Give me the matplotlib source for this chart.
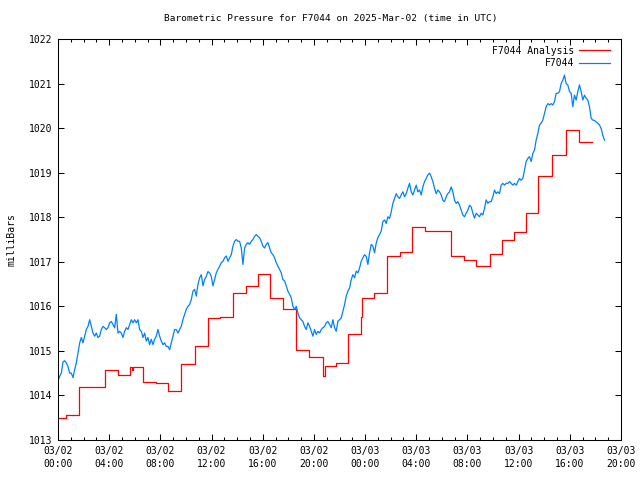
import numpy as np
import matplotlib
matplotlib.use("Agg")
import matplotlib.pyplot as plt
from matplotlib.ticker import MultipleLocator

# Analysis (step values), time in hours since 03/02 00:00 UTC
an_hours = [0.0, 0.65, 1.65, 2.72, 3.65, 4.69, 5.65, 5.78, 5.88, 6.64, 7.68,
            8.6, 9.64, 10.68, 11.72, 12.68, 13.67, 14.7, 15.6, 16.6, 17.6,
            18.6, 19.65, 20.74, 20.84, 21.7, 22.64, 23.65, 23.78, 24.7, 25.7,
            26.73, 27.7, 28.7, 30.7, 31.7, 32.7, 33.76, 34.7, 35.66, 36.6,
            37.55, 38.6, 39.7, 40.7, 41.7]
an_mb = [1013.49, 1013.56, 1014.18, 1014.20, 1014.56, 1014.47, 1014.64,
         1014.58, 1014.64, 1014.31, 1014.27, 1014.09, 1014.70, 1015.12,
         1015.73, 1015.75, 1016.29, 1016.45, 1016.72, 1016.18, 1015.93,
         1015.02, 1014.86, 1014.44, 1014.65, 1014.72, 1015.39, 1015.75,
         1016.18, 1016.29, 1017.13, 1017.23, 1017.78, 1017.70, 1017.13,
         1017.04, 1016.90, 1017.17, 1017.50, 1017.66, 1018.09, 1018.92,
         1019.39, 1019.96, 1019.68, 1019.68]

# Station observations, one reading every ~7.8 minutes from 00:00
obs_step_h = 5 / 38.4
obs_mb = [
    1014.32, 1014.43, 1014.50, 1014.75, 1014.78, 1014.73, 1014.65, 1014.50,
    1014.50, 1014.40, 1014.58, 1014.73, 1014.95, 1015.18, 1015.30, 1015.18,
    1015.33, 1015.48, 1015.55, 1015.70, 1015.55, 1015.40, 1015.33, 1015.40,
    1015.30, 1015.33, 1015.48, 1015.55, 1015.52, 1015.48, 1015.52, 1015.63,
    1015.66, 1015.59, 1015.52, 1015.82, 1015.40, 1015.44, 1015.40, 1015.30,
    1015.44, 1015.52, 1015.48, 1015.59, 1015.70, 1015.63, 1015.70, 1015.63,
    1015.70, 1015.48, 1015.44, 1015.30, 1015.40, 1015.22, 1015.30, 1015.14,
    1015.26, 1015.14, 1015.26, 1015.33, 1015.48, 1015.33, 1015.22, 1015.14,
    1015.18, 1015.10, 1015.10, 1015.03, 1015.18, 1015.33, 1015.48, 1015.48,
    1015.40, 1015.48, 1015.55, 1015.70, 1015.82, 1015.93, 1016.00, 1016.04,
    1016.15, 1016.34, 1016.38, 1016.23, 1016.49, 1016.64, 1016.71, 1016.46,
    1016.60, 1016.67, 1016.78, 1016.75, 1016.67, 1016.46, 1016.60, 1016.75,
    1016.83, 1016.90, 1016.98, 1017.01, 1017.09, 1017.13, 1017.01, 1017.09,
    1017.16, 1017.35, 1017.46, 1017.50, 1017.46, 1017.46, 1017.31, 1016.94,
    1017.31, 1017.39, 1017.43, 1017.39, 1017.46, 1017.50, 1017.57, 1017.61,
    1017.57, 1017.54, 1017.46, 1017.35, 1017.31, 1017.39, 1017.43, 1017.31,
    1017.20, 1017.16, 1017.09, 1016.98, 1016.90, 1016.83, 1016.75, 1016.60,
    1016.57, 1016.46, 1016.34, 1016.27, 1016.19, 1016.00, 1015.93, 1016.00,
    1015.85, 1015.74, 1015.70, 1015.66, 1015.55, 1015.48, 1015.63, 1015.55,
    1015.44, 1015.33, 1015.48, 1015.37, 1015.44, 1015.40, 1015.48, 1015.52,
    1015.55, 1015.63, 1015.66, 1015.59,
    1015.52, 1015.70, 1015.52, 1015.44, 1015.67, 1015.70, 1015.74, 1015.89,
    1016.04, 1016.23, 1016.34, 1016.41, 1016.60, 1016.71, 1016.64, 1016.79,
    1016.75, 1016.86, 1017.01, 1017.09, 1017.16, 1017.12, 1016.94, 1017.20,
    1017.39, 1017.35, 1017.20, 1017.42, 1017.54, 1017.61, 1017.69,
    1017.90, 1017.94, 1017.86, 1018.01, 1017.97, 1018.12, 1018.31, 1018.42,
    1018.53, 1018.46, 1018.42, 1018.50, 1018.57, 1018.46, 1018.53, 1018.65,
    1018.76, 1018.57, 1018.50, 1018.61,
    1018.72, 1018.57, 1018.61, 1018.50, 1018.68, 1018.80, 1018.87, 1018.95,
    1018.99, 1018.91, 1018.80, 1018.65, 1018.53, 1018.61, 1018.57, 1018.50,
    1018.38, 1018.35, 1018.46, 1018.53, 1018.57, 1018.68, 1018.57, 1018.38,
    1018.31, 1018.35, 1018.27, 1018.16, 1018.05, 1018.01, 1018.09, 1018.16,
    1018.27, 1018.23, 1018.09, 1017.98, 1018.09, 1018.05, 1018.01, 1018.09,
    1018.05,
    1018.20, 1018.39, 1018.31, 1018.35, 1018.35, 1018.46, 1018.61, 1018.53,
    1018.57, 1018.53, 1018.72, 1018.76, 1018.72, 1018.76, 1018.76, 1018.80,
    1018.76, 1018.72, 1018.76, 1018.72, 1018.80, 1018.87, 1018.83, 1018.87,
    1019.06, 1019.25, 1019.32, 1019.36, 1019.25, 1019.43, 1019.51, 1019.73,
    1019.88, 1020.07, 1020.11, 1020.18, 1020.33, 1020.48, 1020.55, 1020.52,
    1020.55, 1020.52,
    1020.59, 1020.78, 1020.78, 1020.82, 1021.00, 1021.08, 1021.19, 1021.00,
    1020.97, 1020.82, 1020.78, 1020.48, 1020.74, 1020.63, 1020.82, 1020.97,
    1020.82, 1020.63, 1020.74, 1020.67, 1020.63, 1020.48, 1020.22, 1020.18,
    1020.17, 1020.14, 1020.11, 1020.07, 1019.99, 1019.84, 1019.73,
]
obs_hours = np.arange(len(obs_mb)) * obs_step_h

tick_hours = list(range(0, 45, 4))
tick_labels = ["03/02\n00:00", "03/02\n04:00", "03/02\n08:00", "03/02\n12:00",
               "03/02\n16:00", "03/02\n20:00", "03/03\n00:00", "03/03\n04:00",
               "03/03\n08:00", "03/03\n12:00", "03/03\n16:00", "03/03\n20:00"]

plt.rcParams["font.family"] = "DejaVu Sans Mono"
plt.rcParams["font.size"] = 7

fig = plt.figure(figsize=(6.4, 4.8), dpi=100)
ax = fig.add_axes([58 / 640, 40 / 480, 563 / 640, 401 / 480])

ax.step(an_hours, an_mb, where="post", color="red", lw=0.9,
        label="F7044 Analysis")
ax.plot(obs_hours, obs_mb, color="#0080ff", lw=0.9, label="F7044")

ax.set_xlim(0, 44)
ax.set_ylim(1013, 1022)
ax.set_xticks(tick_hours)
ax.set_xticklabels(tick_labels, linespacing=1.45)
ax.xaxis.set_minor_locator(MultipleLocator(1))
ax.yaxis.set_major_locator(MultipleLocator(1))
ax.yaxis.set_major_formatter(matplotlib.ticker.FormatStrFormatter("%d"))
ax.tick_params(which="both", direction="in", top=True, right=True,
               width=0.75, pad=4)
ax.tick_params(which="major", length=4)
ax.tick_params(which="minor", length=2.5)
for s in ax.spines.values():
    s.set_linewidth(0.75)

ax.set_ylabel("milliBars", labelpad=9)
fig.text(331 / 640, 1 - 19 / 480,
         "Barometric Pressure for F7044 on 2025-Mar-02 (time in UTC)",
         ha="center", va="center", fontsize=6.8)

ax.legend(loc="upper right", bbox_to_anchor=(0.9876, 0.993),
          markerfirst=False, frameon=False, borderaxespad=0,
          handlelength=3.2, labelspacing=0.25, handletextpad=0.5)

fig.savefig("out.png", dpi=100)
